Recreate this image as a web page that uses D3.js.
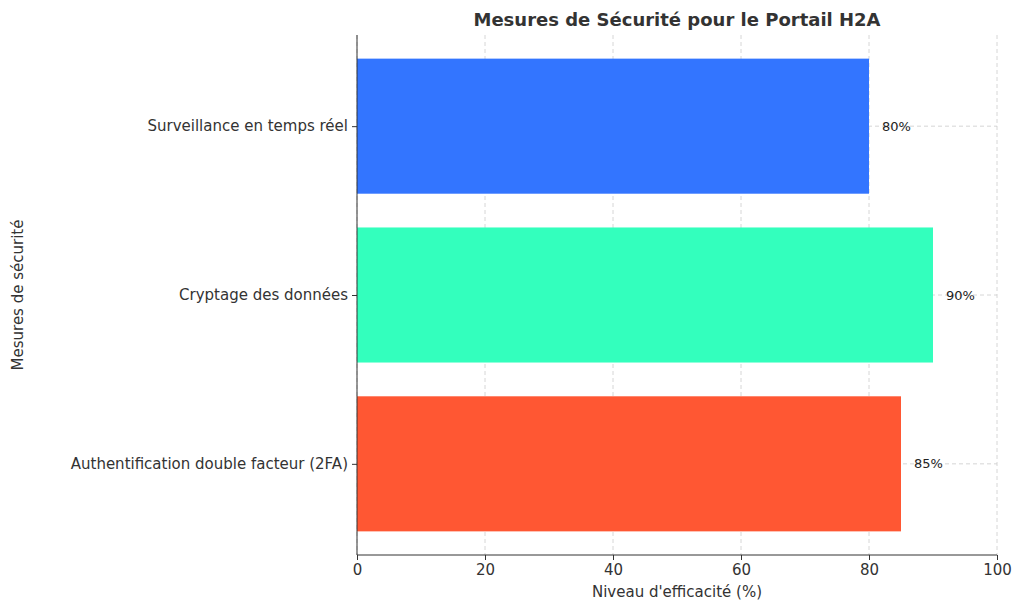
<!DOCTYPE html>
<html><head><meta charset="utf-8">
<script src="https://cdn.jsdelivr.net/npm/d3@7"></script>
<style>body{margin:0;background:#fff}svg{font-family:"DejaVu Sans",sans-serif}</style>
</head><body><svg id="c" width="1024" height="611"></svg>
<script>
const categories = ["Authentification double facteur (2FA)", "Cryptage des données", "Surveillance en temps réel"];
const values = [85, 90, 80];
const colors = ["#FF5733", "#33FFBD", "#3375FF"];
const xTicks = [0, 20, 40, 60, 80, 100];

const svg = d3.select("#c");
const L = 357, R = 997, T = 35, B = 555;
const x = d3.scaleLinear().domain([0, 100]).range([L, R]);
const y = d3.scaleLinear().domain([-0.54, 2.54]).range([B, T]);
const bh = y(0) - y(0.8);

// grid
svg.append("g").selectAll("line").data(xTicks).join("line")
  .attr("x1", d => x(d)).attr("x2", d => x(d)).attr("y1", T).attr("y2", B)
  .attr("stroke", "#ccc").attr("stroke-dasharray", "4,3").attr("stroke-width", 0.8);
svg.append("g").selectAll("line").data(categories).join("line")
  .attr("x1", L).attr("x2", R).attr("y1", (d, i) => y(i)).attr("y2", (d, i) => y(i))
  .attr("stroke", "#ccc").attr("stroke-dasharray", "4,3").attr("stroke-width", 0.8);

svg.append("g").selectAll("rect").data(values).join("rect")
  .attr("x", x(0)).attr("y", (d, i) => y(i) - bh / 2)
  .attr("width", d => x(d) - x(0)).attr("height", bh)
  .attr("fill", (d, i) => colors[i]);

svg.append("g").selectAll("text").data(values).join("text")
  .attr("x", d => x(d) + 13).attr("y", (d, i) => y(i)).attr("dy", "0.35em")
  .attr("font-size", 13).attr("fill", "#222").text(d => d + "%");

// axes
const xa = svg.append("g").attr("transform", `translate(0,${B})`)
  .call(d3.axisBottom(x).tickValues(xTicks).tickSize(5).tickPadding(4));
xa.select(".domain").remove();
xa.selectAll("text").attr("font-size", 15).attr("fill", "#333").attr("font-family", "DejaVu Sans");
xa.selectAll("line").attr("stroke", "#333");
const ya = svg.append("g").attr("transform", `translate(${L},0)`)
  .call(d3.axisLeft(y).tickValues([0, 1, 2]).tickFormat(i => categories[i]).tickSize(5).tickPadding(4));
ya.select(".domain").remove();
ya.selectAll("text").attr("font-size", 15).attr("fill", "#333").attr("font-family", "DejaVu Sans");
ya.selectAll("line").attr("stroke", "#333");

svg.append("line").attr("x1", L).attr("x2", R).attr("y1", B).attr("y2", B).attr("stroke", "#333");
svg.append("line").attr("x1", L).attr("x2", L).attr("y1", T).attr("y2", B).attr("stroke", "#333");

svg.append("text").attr("x", (L + R) / 2).attr("y", 26).attr("text-anchor", "middle")
  .attr("font-size", 18).attr("font-weight", "bold").attr("fill", "#333")
  .text("Mesures de Sécurité pour le Portail H2A");
svg.append("text").attr("x", (L + R) / 2).attr("y", 597).attr("text-anchor", "middle")
  .attr("font-size", 15).attr("fill", "#333").text("Niveau d'efficacité (%)");
svg.append("text").attr("transform", `translate(23,${(T + B) / 2}) rotate(-90)`).attr("text-anchor", "middle")
  .attr("font-size", 15).attr("fill", "#333").text("Mesures de sécurité");
</script></body></html>
